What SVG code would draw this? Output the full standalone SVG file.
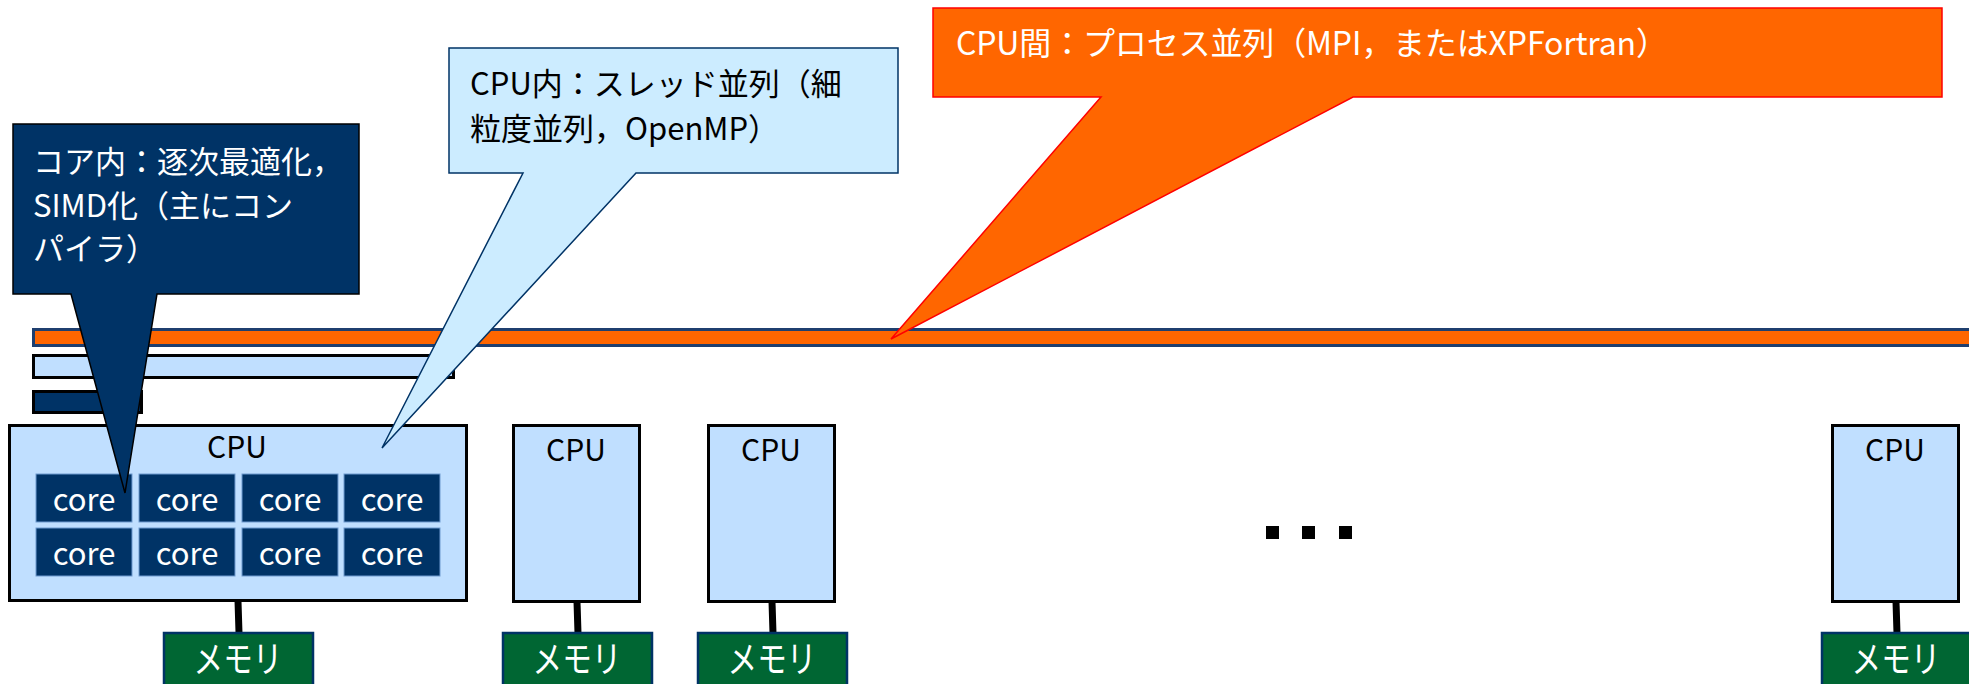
<svg xmlns="http://www.w3.org/2000/svg" width="1969" height="684" viewBox="0 0 1969 684">
<style>
text{font-family:"Noto Sans CJK JP","Noto Sans",sans-serif;}
.cpu{fill:#C0DFFF;stroke:#000;stroke-width:3;}
.cpuT{font-size:30px;fill:#000;text-anchor:middle;}
.core{fill:#003366;stroke:#6F9BD0;stroke-width:1;}
.coreT{font-size:31px;fill:#fff;text-anchor:middle;}
.mem{fill:#006633;stroke:#003366;stroke-width:2.5;}
.memT{font-size:37px;fill:#fff;text-anchor:middle;}
.link{stroke:#000;stroke-width:7;}
.call{font-size:31px;}
</style>
<rect width="1969" height="684" fill="#fff"/>
<g id="bars">
<rect x="33.5" y="329.5" width="1950" height="16" fill="#FF6600" stroke="#1F3F6F" stroke-width="3"/>
<rect x="33.5" y="355.5" width="420" height="22" fill="#C0DFFF" stroke="#000" stroke-width="3"/>
<rect x="33.5" y="391.5" width="108" height="21" fill="#003366" stroke="#000" stroke-width="3"/>
</g>
<g id="connectors">
<line class="link" x1="238" y1="601" x2="239" y2="633"/>
<line class="link" x1="577" y1="602" x2="578" y2="633"/>
<line class="link" x1="772" y1="602" x2="773" y2="633"/>
<line class="link" x1="1896" y1="602" x2="1897" y2="633"/>
</g>
<g id="cpu1">
<rect class="cpu" x="9.5" y="425.5" width="457" height="175"/>
<text class="cpuT" x="237" y="458">CPU</text>
<g id="cores">
<rect class="core" x="36" y="474" width="96" height="48"/><text class="coreT" x="84" y="511">core</text>
<rect class="core" x="139" y="474" width="96" height="48"/><text class="coreT" x="187" y="511">core</text>
<rect class="core" x="242" y="474" width="96" height="48"/><text class="coreT" x="290" y="511">core</text>
<rect class="core" x="344" y="474" width="96" height="48"/><text class="coreT" x="392" y="511">core</text>
<rect class="core" x="36" y="528" width="96" height="48"/><text class="coreT" x="84" y="565">core</text>
<rect class="core" x="139" y="528" width="96" height="48"/><text class="coreT" x="187" y="565">core</text>
<rect class="core" x="242" y="528" width="96" height="48"/><text class="coreT" x="290" y="565">core</text>
<rect class="core" x="344" y="528" width="96" height="48"/><text class="coreT" x="392" y="565">core</text>
</g>
</g>
<g id="cpu2">
<rect class="cpu" x="513.5" y="425.5" width="126" height="176"/>
<text class="cpuT" x="576" y="461">CPU</text>
</g>
<g id="cpu3">
<rect class="cpu" x="708.5" y="425.5" width="126" height="176"/>
<text class="cpuT" x="771" y="461">CPU</text>
</g>
<g id="cpu4">
<rect class="cpu" x="1832.5" y="425.5" width="126" height="176"/>
<text class="cpuT" x="1895" y="461">CPU</text>
</g>
<g id="mem1">
<rect class="mem" x="164" y="633" width="149" height="70"/>
<text class="memT" transform="translate(238,673) scale(0.8,1)">メモリ</text>
</g>
<g id="mem2">
<rect class="mem" x="503" y="633" width="149" height="70"/>
<text class="memT" transform="translate(577,673) scale(0.8,1)">メモリ</text>
</g>
<g id="mem3">
<rect class="mem" x="698" y="633" width="149" height="70"/>
<text class="memT" transform="translate(772,673) scale(0.8,1)">メモリ</text>
</g>
<g id="mem4">
<rect class="mem" x="1822" y="633" width="149" height="70"/>
<text class="memT" transform="translate(1896,673) scale(0.8,1)">メモリ</text>
</g>
<g id="dots" fill="#000">
<rect x="1266" y="526" width="13" height="13"/>
<rect x="1302" y="526" width="13" height="13"/>
<rect x="1339" y="526" width="13" height="13"/>
</g>
<g id="callout-core">
<path d="M13,124 H359 V294 H157 L125,493 L71,294 H13 Z" fill="#003366" stroke="#000" stroke-width="1.5"/>
<text class="call" fill="#fff"><tspan x="33" y="173">コア内：逐次最適化，</tspan><tspan x="33" y="217">SIMD化（主にコン</tspan><tspan x="33" y="260">パイラ）</tspan></text>
</g>
<g id="callout-cpu">
<path d="M449,48 H898 V173 H636 L382,448 L523,173 H449 Z" fill="#CCECFF" stroke="#003366" stroke-width="1.5"/>
<text class="call" fill="#000"><tspan x="470" y="95">CPU内：スレッド並列（細</tspan><tspan x="470" y="140">粒度並列，OpenMP）</tspan></text>
</g>
<g id="callout-inter">
<path d="M933,8 H1942 V97 H1353 L891,339 L1101,97 H933 Z" fill="#FF6600" stroke="#FF0000" stroke-width="1.5"/>
<text fill="#fff" x="956" y="55" font-size="32" textLength="712" lengthAdjust="spacing">CPU間：プロセス並列（MPI，またはXPFortran）</text>
</g>
</svg>
